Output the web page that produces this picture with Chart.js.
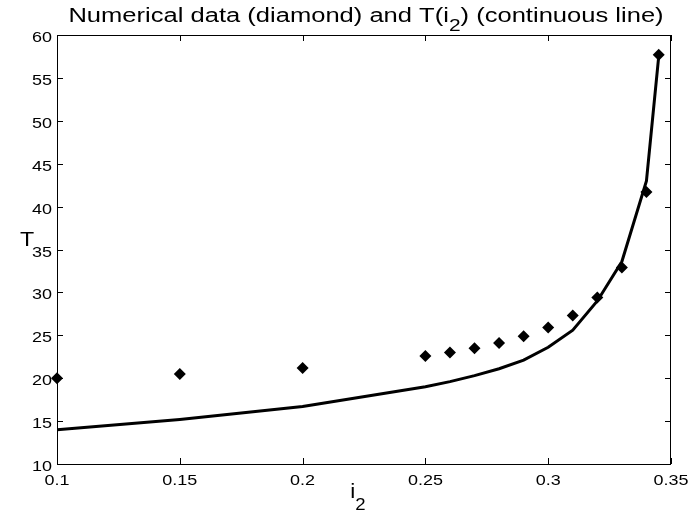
<!DOCTYPE html>
<html>
<head>
<meta charset="utf-8">
<script src="https://cdn.jsdelivr.net/npm/chart.js@4/dist/chart.umd.min.js"></script>
<style>
  html, body { margin: 0; padding: 0; background: #fff; }
  #wrap { width: 692px; height: 513px; }
</style>
</head>
<body>
<div id="wrap"><canvas id="chart" width="692" height="513"></canvas></div>
<script>
// --- data ---
const i2Values = [0.1, 0.15, 0.2, 0.25, 0.26, 0.27, 0.28, 0.29, 0.30, 0.31, 0.32, 0.33, 0.34, 0.345];
const numericalT = [20.0, 20.5, 21.2, 22.6, 23.0, 23.5, 24.1, 24.9, 25.9, 27.3, 29.4, 32.9, 41.7, 57.7];
const modelT = [14.0, 15.2, 16.7, 19.0, 19.6, 20.3, 21.1, 22.1, 23.6, 25.6, 29.0, 33.6, 43.0, 57.5];
const xTickValues = [0.1, 0.15, 0.2, 0.25, 0.3, 0.35];
const yTickValues = [10, 15, 20, 25, 30, 35, 40, 45, 50, 55, 60];

const FONT = '"Liberation Sans", Arial, Helvetica, sans-serif';
const STRETCH = 1.16;   // the scanned figure is a bit wider than tall

const toPoints = ys => i2Values.map((x, k) => ({ x: x, y: ys[k] }));

// draw a run of [text, size, dy] pieces, horizontally stretched by sx
function drawRun(ctx, pieces, x, y, sx, align) {
    const widths = pieces.map(([t, size]) => {
        ctx.font = size + 'px ' + FONT;
        return ctx.measureText(t).width * sx;
    });
    const total = widths.reduce((a, b) => a + b, 0);
    let cx = align === 'center' ? x - total / 2 : align === 'right' ? x - total : x;
    pieces.forEach(([t, size, dy], k) => {
        ctx.save();
        ctx.font = size + 'px ' + FONT;
        ctx.translate(cx, y + (dy || 0));
        ctx.scale(sx, 1);
        ctx.fillText(t, 0, 0);
        ctx.restore();
        cx += widths[k];
    });
}

// title, tick labels, axis labels (with subscripts), box and inward ticks
const matlabFrame = {
    id: 'matlabFrame',
    afterDraw(chart) {
        const { ctx, chartArea: a, scales } = chart;
        ctx.save();
        ctx.strokeStyle = '#000';
        ctx.lineWidth = 1;
        ctx.strokeRect(a.left + 0.5, a.top + 0.5, a.right - a.left - 1, a.bottom - a.top);

        const tick = 6;
        ctx.beginPath();
        scales.x.ticks.forEach(t => {
            const px = Math.round(scales.x.getPixelForValue(t.value)) + 0.5;
            ctx.moveTo(px, a.bottom); ctx.lineTo(px, a.bottom - tick);
            ctx.moveTo(px, a.top); ctx.lineTo(px, a.top + tick);
        });
        scales.y.ticks.forEach(t => {
            const py = Math.round(scales.y.getPixelForValue(t.value)) + 0.5;
            ctx.moveTo(a.left, py); ctx.lineTo(a.left + tick, py);
            ctx.moveTo(a.right, py); ctx.lineTo(a.right - tick, py);
        });
        ctx.stroke();

        ctx.fillStyle = '#000';
        ctx.textBaseline = 'alphabetic';
        ctx.textAlign = 'left';

        // tick labels
        scales.x.ticks.forEach(t => {
            const px = scales.x.getPixelForValue(t.value);
            drawRun(ctx, [[String(+t.value.toFixed(2)), 15.5]], px, a.bottom + 21, STRETCH, 'center');
        });
        scales.y.ticks.forEach(t => {
            const py = scales.y.getPixelForValue(t.value);
            drawRun(ctx, [[String(t.value), 15.5]], a.left - 5, py + 7, STRETCH, 'right');
        });

        // title: Numerical data (diamond) and T(i2) (continuous line)
        drawRun(ctx, [
            ['Numerical data (diamond) and T(i', 19.5],
            ['2', 16, 9],
            [') (continuous line)', 19.5]
        ], (a.left + a.right) / 2 + 2, 22, 1.31, 'center');

        // x label i2
        drawRun(ctx, [['i', 19.5], ['2', 16, 12]], 358, 498, STRETCH, 'center');

        // y label T
        drawRun(ctx, [['T', 20]], 27, 246, STRETCH, 'center');
        ctx.restore();
    }
};

new Chart(document.getElementById('chart'), {
    data: {
        datasets: [
            {
                type: 'line',
                label: 'T(i2)',
                data: toPoints(modelT),
                borderColor: '#000',
                borderWidth: 3,
                pointRadius: 0,
                tension: 0,
                fill: false
            },
            {
                type: 'scatter',
                label: 'Numerical data',
                data: toPoints(numericalT),
                pointStyle: 'rectRot',
                pointRadius: 6,
                backgroundColor: '#000',
                borderColor: '#000',
                borderWidth: 0,
                clip: false
            }
        ]
    },
    options: {
        responsive: false,
        animation: false,
        events: [],
        layout: { padding: { top: 35, right: 21, left: 0, bottom: 0 } },
        plugins: {
            legend: { display: false },
            tooltip: { enabled: false }
        },
        scales: {
            x: {
                type: 'linear',
                min: 0.1,
                max: 0.35,
                afterBuildTicks: s => { s.ticks = xTickValues.map(v => ({ value: v })); },
                afterFit: s => { s.height = 49; },
                grid: { display: false, drawTicks: false },
                border: { display: false },
                ticks: { display: false, autoSkip: false }
            },
            y: {
                type: 'linear',
                min: 10,
                max: 60,
                afterBuildTicks: s => { s.ticks = yTickValues.map(v => ({ value: v })); },
                afterFit: s => { s.width = 57; },
                grid: { display: false, drawTicks: false },
                border: { display: false },
                ticks: { display: false, autoSkip: false }
            }
        }
    },
    plugins: [matlabFrame]
});
</script>
</body>
</html>
